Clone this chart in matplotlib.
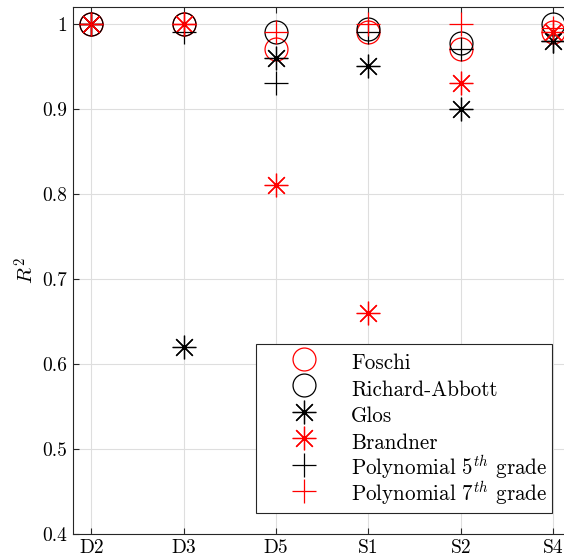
import numpy as np
import matplotlib
matplotlib.use("Agg")
import matplotlib.pyplot as plt
from matplotlib.ticker import FuncFormatter

plt.rcParams.update({"font.family": "serif", "font.serif": ["cmr10"],
                     "mathtext.fontset": "cm", "axes.formatter.use_mathtext": True,
                     "font.size": 14})

categories = ["D2", "D3", "D5", "S1", "S2", "S4"]
foschi = [1.0, 1.0, 0.97, 0.99, 0.97, 0.99]
richard_abbott = [1.0, 1.0, 0.99, 0.994, 0.978, 1.0]
glos = [1.0, 0.62, 0.96, 0.95, 0.90, 0.98]
brandner = [1.0, 1.0, 0.81, 0.66, 0.93, 0.99]
poly5 = [1.0, 0.99, 0.93, 0.99, 0.97, 0.98]
poly7 = [1.0, 1.0, 0.99, 1.0, 1.0, 0.995]

x = np.arange(1, len(categories) + 1)
ast = (8, 2, 0)  # 8-armed asterisk like MATLAB '*'
series = [
    (foschi, "o", "red", "Foschi", 16.5),
    (richard_abbott, "o", "black", "Richard-Abbott", 16.5),
    (glos, ast, "black", "Glos", 17),
    (brandner, ast, "red", "Brandner", 17),
    (poly5, "+", "black", r"Polynomial $5^{th}$ grade", 17),
    (poly7, "+", "red", r"Polynomial $7^{th}$ grade", 17),
]

fig = plt.figure(figsize=(5.64, 5.58), dpi=100)
ax = fig.add_axes([73 / 564, 24 / 558, 498.5 / 564, 527 / 558])
for vals, m, col, lab, ms in series:
    if m == "o":
        ax.plot(x, vals, ls="none", marker=m, ms=ms, mfc="none", mec=col, mew=0.9, label=lab)
    else:
        ax.plot(x, vals, ls="none", marker=m, ms=ms, color=col, mew=0.9, label=lab)

ax.set_xlim(0.8, 6.2)
ax.set_ylim(0.4, 1.02)
ax.set_xticks(x)
ax.set_xticklabels(categories)
ax.set_yticks(np.arange(0.4, 1.01, 0.1))
ax.yaxis.set_major_formatter(FuncFormatter(lambda v, p: "%g" % round(v, 2)))
ax.grid(True, color="#dedede", lw=0.8)
ax.set_axisbelow(True)
ax.tick_params(direction="in", top=True, right=True, length=4, width=0.8,
               colors="#262626", labelcolor="black", labelsize=14, pad=4)
for s in ax.spines.values():
    s.set_color("#262626"); s.set_linewidth(0.8)
ax.set_ylabel("$R^2$", fontsize=15, labelpad=3)

# tall handle boxes so every legend row gets the same height
leg = ax.legend(loc="upper left", bbox_to_anchor=(256 / 564, 1 - 344 / 558),
                bbox_transform=fig.transFigure, fancybox=False, framealpha=1,
                edgecolor="#262626", fontsize=15.2, handletextpad=0.15,
                handlelength=4.15, handleheight=1.7, borderpad=0.2,
                labelspacing=-0.1, borderaxespad=0)
leg.get_frame().set_linewidth(0.8)

fig.savefig("out.png", dpi=100)
